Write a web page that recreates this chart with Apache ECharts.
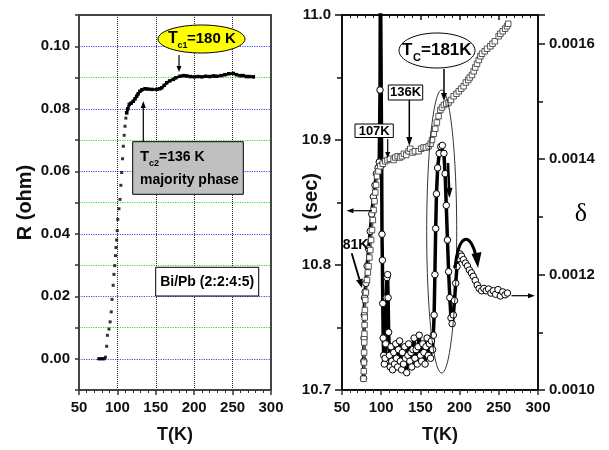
<!DOCTYPE html>
<html><head><meta charset="utf-8">
<script src="https://cdn.jsdelivr.net/npm/echarts@6/dist/echarts.min.js"></script>
<style>html,body{margin:0;padding:0;background:#fff}#c{width:609px;height:450px}</style>
</head><body><div id="c"></div>
<script>
// ---- Left panel: R (ohm) vs T(K)
const rT = [75.5,77,78.5,80,81.5,83,84.5,86,87,89,90.5,92,93,94.5,95.5,96.5,97.5,98.2,99,99.8,100.5,102,103.4,104.5,105.6,106.7,107.7,108.8,109.9,111,112.1,113.5,115.5,118,120.7,123,125.1,127,129.4,132,135.9,140,145,151.2,155,157.7,161,164.2,168,172.8,176,181.5,186,190.2,195,200,205,210,215,220,225,229.3,235,240,245,250.9,255,260,263.9,268,272,277];
const rVal = [0,0,0,0,0,0,0.0005,0.004,0.0075,0.0095,0.0118,0.015,0.019,0.0235,0.027,0.0298,0.033,0.0356,0.038,0.041,0.0446,0.048,0.051,0.0555,0.0596,0.064,0.068,0.0715,0.0744,0.077,0.0787,0.0800,0.0814,0.0818,0.0824,0.0832,0.084,0.0848,0.0856,0.0861,0.0864,0.0863,0.0862,0.0862,0.0864,0.0867,0.0875,0.0883,0.0889,0.0894,0.0899,0.0904,0.0906,0.0905,0.0903,0.0902,0.0903,0.0902,0.0904,0.0903,0.0905,0.0904,0.0906,0.0909,0.0912,0.0913,0.0909,0.0906,0.0906,0.0903,0.0903,0.0902];

// ---- Right panel: t (sec) vs T(K)
const tT = [77.5,77.8,78,78.2,78.4,78.6,78.8,79,79.2,79.7,80.5,81.9,83,83.9,85,86.1,87.2,88.3,89.3,90.3,91.5,92.5,93.5,94.6,96.5,98.9,102,105.2,108,111,115.8,118,121,124,126.5,129,132,135,137.1,140,143,147.7,151,154,157,160.5,163,164.8,167,169,171,173.2,175.4,177.5,180,183,186,189,192.4,196,199,202,205.1,208,211,213,215.8,218,220,222.2,224.5,226.5,228.6,232,235,239.2,242,245,249.8,252,255,258,260.5,262];
const tVal = [10.709,10.715,10.722,10.730,10.738,10.745,10.752,10.758,10.764,10.772,10.778,10.788,10.794,10.799,10.806,10.812,10.820,10.828,10.836,10.844,10.851,10.858,10.864,10.871,10.875,10.879,10.881,10.883,10.884,10.885,10.884,10.886,10.887,10.886,10.887,10.889,10.888,10.891,10.893,10.890,10.891,10.891,10.893,10.894,10.894,10.895,10.897,10.900,10.905,10.909,10.914,10.919,10.924,10.926,10.928,10.929,10.930,10.932,10.935,10.937,10.939,10.941,10.943,10.946,10.948,10.950,10.952,10.955,10.958,10.961,10.964,10.967,10.969,10.971,10.973,10.975,10.977,10.979,10.983,10.985,10.987,10.989,10.991,10.993];

// ---- Right panel: delta vs T(K)
const dT = [77.5,77.8,78.1,78.4,78.8,79.5,80.5,82,84,86,88,90,92,94,96,97.5,98.5,99,100,100.6,101,101.5,102,102.5,103.2,104,105,105.8,106.5,107.3,108.2,108.8,109.5,110.5,111.5,112.5,113.5,114.5,116,117,118.5,119.5,121,122,123.5,124.5,126,127,128.5,130,131,132.5,134,135,136.5,138,139,140.5,142,143,144.5,146,147,148.5,150,151.5,153,154.5,156,157,158.5,160,161.5,163,164,165.5,166.5,167.5,168.5,169.5,170.5,172,174,176,178,180,181.5,183,184.5,186,187.5,189,190.5,192,193.5,195,196.7,198.5,200.5,202.5,205,207.5,210,212.5,215,217.5,220,222.5,225,228,231,234,237,240,243,246,249,252,255,258,261];
const dVal = [0.00102,0.00105,0.00109,0.00113,0.00116,0.00117,0.001185,0.001215,0.001245,0.001275,0.001305,0.001335,0.001355,0.001375,0.001385,0.001395,0.00152,0.00175,0.00175,0.00139,0.00127,0.001225,0.00115,0.00109,0.00106,0.001045,0.001055,0.00108,0.00116,0.001195,0.00120,0.00116,0.00110,0.00106,0.00104,0.001075,0.00105,0.001035,0.001065,0.001045,0.00108,0.001055,0.00104,0.00107,0.001085,0.00105,0.001035,0.001065,0.001045,0.001075,0.001055,0.00103,0.00106,0.00108,0.00105,0.001065,0.00104,0.00107,0.00109,0.001055,0.00107,0.001045,0.001075,0.001095,0.00106,0.00105,0.00108,0.001065,0.001045,0.001075,0.00109,0.00106,0.00108,0.001055,0.001085,0.00107,0.001095,0.00113,0.00120,0.00128,0.00134,0.001385,0.00141,0.001422,0.001424,0.00141,0.001375,0.00132,0.00126,0.001205,0.00116,0.001125,0.001115,0.00113,0.001155,0.001185,0.001214,0.001228,0.001236,0.001232,0.001226,0.00122,0.001215,0.001208,0.001203,0.001197,0.00119,0.001182,0.001176,0.001172,0.001176,0.001172,0.001175,0.001168,0.001172,0.001166,0.001174,0.001163,0.00117,0.001165,0.001168];

const FONT = '"Liberation Sans", Arial, sans-serif';
const pairs = (xs, ys) => xs.map((x, i) => [x, ys[i]]);
const riseEnd = rT.findIndex(t => t >= 112);
const rRise = pairs(rT.slice(0, riseEnd + 1), rVal.slice(0, riseEnd + 1));
const rPlat = pairs(rT.slice(riseEnd), rVal.slice(riseEnd));

const lbl = {fontFamily: FONT, fontWeight: 'bold', fontSize: 15, color: '#111'};
const nameStyle = {fontFamily: FONT, fontWeight: 'bold', fontSize: 18, color: '#111'};

const chart = echarts.init(document.getElementById('c'), null, {renderer: 'canvas'});

function xBottom(grid, split) {
  return {gridIndex: grid, type: 'value', min: 50, max: 300, interval: 50, position: 'bottom',
    axisLine: {show: true, onZero: false, lineStyle: {color: grid === 0 ? '#444' : '#111', width: 2}},
    axisTick: {show: true, length: 5, lineStyle: {color: '#333', width: 1.5}},
    minorTick: {show: true, splitNumber: 5, length: 3, lineStyle: {color: '#333', width: 1}},
    axisLabel: Object.assign({margin: 10, showMinLabel: true, showMaxLabel: true}, lbl),
    splitLine: {show: split, lineStyle: {color: '#222', type: 'dotted', width: 1}},
    name: 'T(K)', nameLocation: 'middle', nameGap: 36, nameMoveOverlap: false, nameTextStyle: nameStyle};
}

const option = {
  animation: false,
  backgroundColor: '#fff',
  grid: [
    {left: 79, top: 15, width: 192, height: 375},
    {left: 342, top: 15, width: 196, height: 375}
  ],
  xAxis: [
    xBottom(0, true),
    {gridIndex: 0, type: 'value', min: 50, max: 300, position: 'top',
      axisLine: {show: true, onZero: false, lineStyle: {color: '#444', width: 2}},
      axisTick: {show: false}, axisLabel: {show: false}, splitLine: {show: false}},
    xBottom(1, false),
    {gridIndex: 1, type: 'value', min: 50, max: 300, interval: 50, position: 'top',
      axisLine: {show: true, onZero: false, lineStyle: {color: '#111', width: 2}},
      axisTick: {show: true, inside: true, length: 5, lineStyle: {color: '#111', width: 1.5}},
      minorTick: {show: true, splitNumber: 5, length: 3, lineStyle: {color: '#111'}},
      axisLabel: {show: false}, splitLine: {show: false}}
  ],
  yAxis: [
    {gridIndex: 0, type: 'value', min: -0.01, max: 0.11, interval: 0.01, position: 'left',
      axisLine: {show: true, onZero: false, lineStyle: {color: '#444', width: 2}},
      axisTick: {show: true, length: 4, lineStyle: {color: '#333', width: 1.5}},
      axisLabel: Object.assign({margin: 9, formatter: v => (Math.round(v * 100) % 2 === 0 ? v.toFixed(2) : '')}, lbl),
      splitLine: {show: true, lineStyle: {color: ['#33dd33', '#4444ff'], type: 'dotted', width: 1.2}},
      name: 'R (ohm)', nameLocation: 'middle', nameGap: 44, nameRotate: 90, nameMoveOverlap: false,
      nameTextStyle: Object.assign({}, nameStyle, {fontSize: 20})},
    {gridIndex: 0, type: 'value', min: -0.01, max: 0.11, position: 'right',
      axisLine: {show: true, onZero: false, lineStyle: {color: '#444', width: 2}},
      axisTick: {show: false}, axisLabel: {show: false}, splitLine: {show: false}},
    {gridIndex: 1, type: 'value', min: 10.7, max: 11.0, interval: 0.1, position: 'left',
      axisLine: {show: true, onZero: false, lineStyle: {color: '#111', width: 2}},
      axisTick: {show: true, length: 7, lineStyle: {color: '#111', width: 1.5}},
      minorTick: {show: true, splitNumber: 2, length: 5, lineStyle: {color: '#111', width: 1.5}},
      axisLabel: Object.assign({margin: 11, formatter: v => v.toFixed(1)}, lbl),
      splitLine: {show: false},
      name: 't (sec)', nameLocation: 'middle', nameGap: 21, nameRotate: 90, nameMoveOverlap: false,
      nameTextStyle: Object.assign({}, nameStyle, {fontSize: 20})},
    {gridIndex: 1, type: 'value', min: 0.001, max: 0.00165, interval: 0.0002, position: 'right',
      axisLine: {show: true, onZero: false, lineStyle: {color: '#111', width: 2}},
      axisTick: {show: true, length: 7, lineStyle: {color: '#111', width: 1.5}},
      minorTick: {show: true, splitNumber: 2, length: 5, lineStyle: {color: '#111', width: 1.5}},
      axisLabel: Object.assign({margin: 11, showMaxLabel: false, formatter: v => v.toFixed(4)}, lbl),
      splitLine: {show: false}}
  ],
  series: [
    {name: 'R rise', type: 'scatter', xAxisIndex: 0, yAxisIndex: 0, data: rRise,
      symbol: 'rect', symbolSize: 3, itemStyle: {color: '#000'}},
    {name: 'R', type: 'line', xAxisIndex: 0, yAxisIndex: 0, data: rPlat,
      symbol: 'rect', symbolSize: 3.5, showSymbol: true, itemStyle: {color: '#000'},
      lineStyle: {color: '#000', width: 2.5}},
    {name: 'delta', type: 'line', xAxisIndex: 2, yAxisIndex: 3, data: pairs(dT, dVal),
      symbol: 'circle', symbolSize: 6.5, showSymbol: true, clip: true,
      itemStyle: {color: '#fff', borderColor: '#000', borderWidth: 1},
      lineStyle: {color: '#000', width: 3.5}},
    {name: 't', type: 'line', xAxisIndex: 2, yAxisIndex: 2, data: pairs(tT, tVal),
      symbol: 'rect', symbolSize: 5.5, showSymbol: true,
      itemStyle: {color: '#fff', borderColor: '#444', borderWidth: 0.9},
      lineStyle: {color: '#666', width: 2}}
  ]
};
chart.setOption(option);

// ---- annotations
function arrow(x1, y1, x2, y2, lw, hl, hw) {
  const dx = x2 - x1, dy = y2 - y1, L = Math.hypot(dx, dy), ux = dx / L, uy = dy / L;
  const bx = x2 - ux * hl, by = y2 - uy * hl, px = -uy, py = ux;
  return [
    {type: 'line', z: 100, shape: {x1: x1, y1: y1, x2: bx, y2: by}, style: {stroke: '#000', lineWidth: lw}},
    {type: 'polygon', z: 100, shape: {points: [[x2, y2], [bx + px * hw, by + py * hw], [bx - px * hw, by - py * hw]]}, style: {fill: '#000'}}
  ];
}
function txt(x, y, s, size, align, family) {
  return {type: 'text', z: 101, x: x, y: y,
    style: {text: s, fontSize: size, fontWeight: family ? 'normal' : 'bold', fontFamily: family || FONT,
      fill: '#000', textAlign: align || 'left', textVerticalAlign: 'middle'}};
}
const g = [];
// left panel
g.push({type: 'ellipse', z: 99, shape: {cx: 201.5, cy: 39, rx: 43.5, ry: 14}, style: {fill: '#ffff00', stroke: '#000', lineWidth: 1}});
g.push(txt(168, 39, 'T', 16), txt(177.5, 46, 'c1', 9), txt(187, 39, '=180 K', 15));
g.push(...arrow(179, 55, 179, 72, 1.2, 6, 2.5));
g.push({type: 'rect', z: 99, shape: {x: 132.7, y: 141.7, width: 110.6, height: 52.6}, style: {fill: '#c0c0c0', stroke: '#000', lineWidth: 1}});
g.push(txt(140, 157, 'T', 15), txt(149, 164, 'c2', 9), txt(159, 157, '=136 K', 14), txt(140, 180, 'majority phase', 14));
g.push(...arrow(143.3, 141.7, 143.3, 101, 1.2, 7, 2.5));
g.push({type: 'rect', z: 99, shape: {x: 155.7, y: 267.3, width: 103, height: 28.7}, style: {fill: '#fff', stroke: '#000', lineWidth: 1}});
g.push(txt(207.2, 282, 'Bi/Pb (2:2:4:5)', 14, 'center'));
// right panel
g.push({type: 'ellipse', z: 98, shape: {cx: 441.7, cy: 231.5, rx: 15, ry: 141.5}, style: {fill: null, stroke: '#000', lineWidth: 0.8}});
g.push({type: 'ellipse', z: 99, shape: {cx: 437, cy: 50.5, rx: 38, ry: 17.5}, style: {fill: '#fff', stroke: '#000', lineWidth: 1}});
g.push(txt(402, 50, 'T', 17), txt(413, 58, 'C', 11), txt(421, 50, '=181K', 17));
g.push(...arrow(444, 69, 444, 101, 1.5, 8, 3));
g.push({type: 'rect', z: 99, shape: {x: 388.3, y: 85, width: 34.4, height: 15}, style: {fill: '#fff', stroke: '#000', lineWidth: 1}});
g.push(txt(405.5, 92.8, '136K', 13, 'center'));
g.push(...arrow(409.3, 100, 409.3, 146, 1.5, 9, 3));
g.push({type: 'rect', z: 99, shape: {x: 355, y: 124, width: 38.3, height: 13.5}, style: {fill: '#fff', stroke: '#000', lineWidth: 1}});
g.push(txt(374.2, 131, '107K', 13, 'center'));
g.push(...arrow(387.7, 139, 387.7, 158, 1.2, 6, 2.5));
g.push(txt(355.5, 245.5, '81K', 14, 'center'));
g.push(...arrow(351.7, 253.3, 362, 288, 1.8, 9, 3.5));
g.push(...arrow(372, 210.7, 346.5, 210.7, 1.2, 7, 2.5));
g.push(...arrow(511.5, 295.7, 535, 295.7, 1.2, 7, 2.5));
g.push(...arrow(448, 163, 449.5, 198, 2.5, 10, 3.5));
g.push({type: 'bezierCurve', z: 100, shape: {x1: 455, y1: 268, x2: 476, y2: 256, cpx1: 459, cpy1: 232, cpx2: 470, cpy2: 232}, style: {stroke: '#000', lineWidth: 3, fill: null}});
g.push({type: 'polygon', z: 100, shape: {points: [[478, 268], [471.5, 254], [481.5, 252]]}, style: {fill: '#000'}});
g.push(txt(581, 214, 'δ', 26, 'center', '"Liberation Serif", "DejaVu Serif", serif'));
chart.setOption({graphic: {elements: g}});
</script></body></html>
